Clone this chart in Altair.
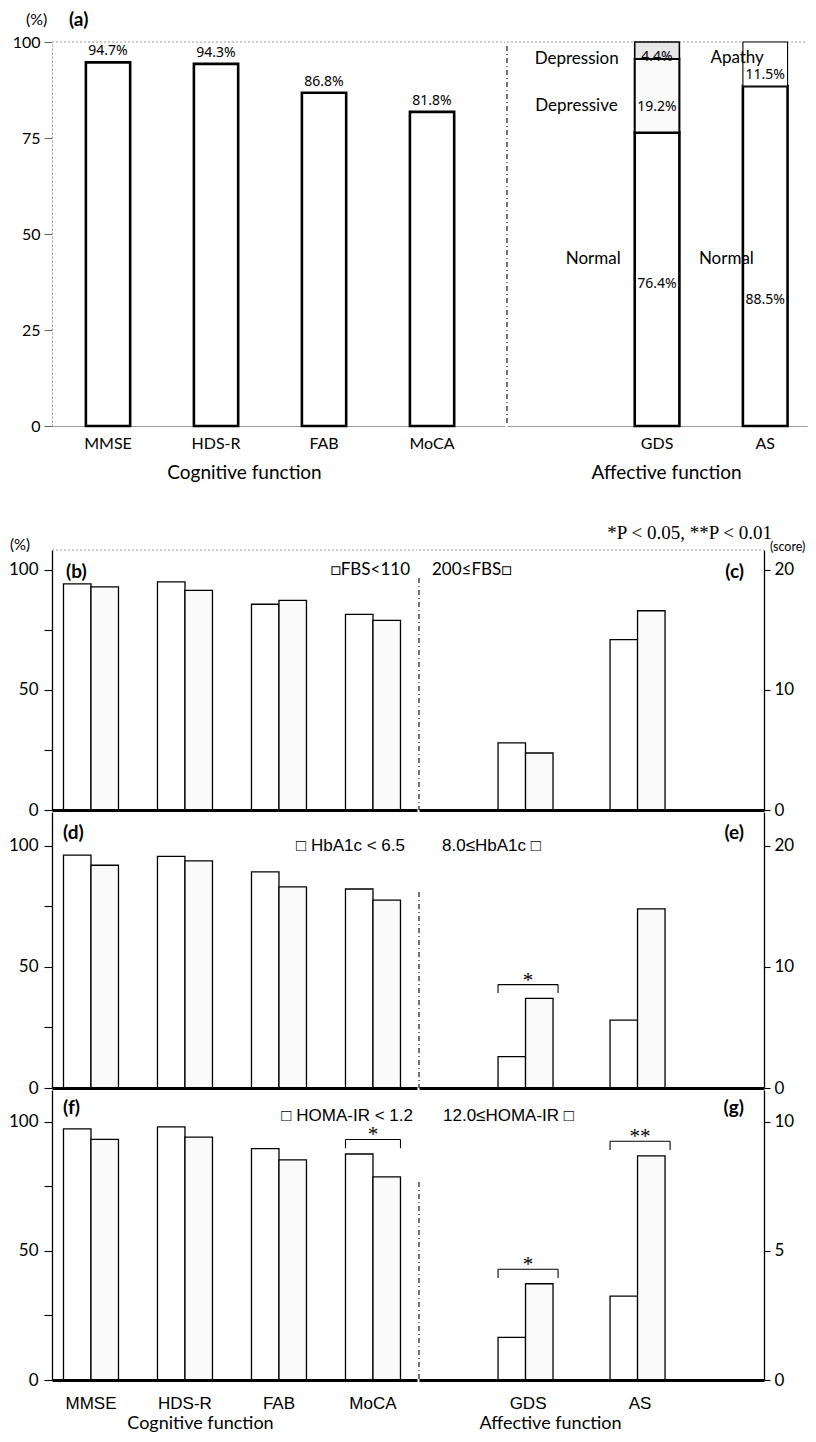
import altair as alt
import pandas as pd

# ---------------- data ----------------
cog_tests = ["MMSE", "HDS-R", "FAB", "MoCA"]
aff_tests = ["GDS", "AS"]
groups = ["low", "high"]

# panel (a)
a_cog_values = [94.7, 94.3, 86.8, 81.8]
gds_status = ["Normal", "Depressive", "Depression"]
gds_values = [76.4, 19.2, 4.4]
as_status = ["Normal", "Apathy"]
as_values = [88.5, 11.5]

# panels (b)/(c): FBS
fbs_legend = ["□FBS<110", "200≤FBS□"]
fbs_cog_low = [94.2, 95.0, 85.7, 81.5]
fbs_cog_high = [92.9, 91.5, 87.3, 79.0]
fbs_aff_low = [5.6, 14.2]
fbs_aff_high = [4.75, 16.6]
fbs_sig_cog = []
fbs_sig_aff = []

# panels (d)/(e): HbA1c
hba_legend = ["□ HbA1c < 6.5", "8.0≤HbA1c □"]
hba_cog_low = [96.2, 95.7, 89.3, 82.2]
hba_cog_high = [92.0, 93.8, 83.1, 77.6]
hba_aff_low = [2.6, 5.6]
hba_aff_high = [7.4, 14.8]
hba_sig_cog = []
hba_sig_aff = [("GDS", "*")]

# panels (f)/(g): HOMA-IR
homa_legend = ["□ HOMA-IR < 1.2", "12.0≤HOMA-IR □"]
homa_cog_low = [97.3, 98.1, 89.7, 87.6]
homa_cog_high = [93.3, 94.1, 85.3, 78.7]
homa_aff_low = [1.65, 3.25]
homa_aff_high = [3.73, 8.69]
homa_sig_cog = [("MoCA", "*")]
homa_sig_aff = [("GDS", "*"), ("AS", "**")]

p_note = "*P < 0.05, **P < 0.01"

# ---------------- styles ----------------
SANS = "Lato"
NARROW = "Liberation Sans Narrow, Liberation Sans"
NUM = "Noto Sans"
SERIF = "Liberation Serif"
GRAY = "#cfcfcf"


def txt(text, x, y, align="left", size=16, font=SANS, weight="normal",
        style="normal", opacity=1.0, baseline="middle"):
    return alt.Chart(pd.DataFrame({"t": [text]})).mark_text(
        align=align, baseline=baseline, fontSize=size, font=font,
        fontWeight=weight, fontStyle=style, color="black", opacity=opacity
    ).encode(x=alt.value(x), y=alt.value(y), text="t:N")


def hline(width, color="#9a9a9a", dash=(2, 2)):
    return alt.Chart(pd.DataFrame({"t": [0]})).mark_rule(
        color=color, strokeWidth=1, strokeDash=list(dash)
    ).encode(x=alt.value(0), x2=alt.value(width), y=alt.value(0))


def vsep(top, height):
    return alt.Chart(pd.DataFrame({"t": [0]})).mark_rule(
        color="black", strokeWidth=1.1, strokeDash=[5, 3, 1, 3]
    ).encode(x=alt.value(0), y=alt.value(top), y2=alt.value(height))


# ================= panel (a) =================
W_A_COG, W_A_AFF, H_A = 453, 300, 384

ya_axis = alt.Axis(values=[0, 25, 50, 75, 100], title=None, grid=False,
                   domainColor="#9a9a9a", domainDash=[2, 2], domainWidth=1,
                   tickColor="#666", tickSize=8, labelFont=SANS, labelFontSize=16,
                   labelPadding=4, labelColor="black")
ya_scale = alt.Scale(domain=[0, 100], nice=False)

xa_cog_scale = alt.Scale(domain=cog_tests, paddingInner=0.59, paddingOuter=0.392, align=0.4)
xa_cog_axis = alt.Axis(title="Cognitive function", titleX=192, titleAlign="center",
                       titleFont=SANS, titleFontSize=19, titleFontWeight="normal",
                       titlePadding=12, titleColor="black", labelAngle=0, labelFont=SANS,
                       labelFontSize=16, labelPadding=9, labelColor="black", ticks=False,
                       domainColor="#9a9a9a", domainWidth=1, labelOverlap=False)

df_a_cog = pd.DataFrame({"test": cog_tests, "value": a_cog_values})
base_a_cog = alt.Chart(df_a_cog).transform_calculate(
    lab="format(datum.value, '.1f') + '%'")
xa_c = alt.X("test:N", sort=cog_tests, scale=xa_cog_scale, axis=xa_cog_axis)
ya_c = alt.Y("value:Q", scale=ya_scale, axis=ya_axis)
a_cog_bars = base_a_cog.mark_bar(fill="white", stroke="black", strokeWidth=2.6).encode(x=xa_c, y=ya_c)
a_cog_lab = base_a_cog.mark_text(baseline="bottom", dy=-4, font=NUM, fontSize=14,
                                 color="black").encode(x=xa_c, y=ya_c, text="lab:N")
panel_a_cog = alt.layer(
    hline(W_A_COG), a_cog_bars, a_cog_lab,
    txt("(%)", -26, -22, size=16, font=SANS),
    txt("(a)", 17, -22, size=19, weight="bold", font=SANS),
    txt(".", -43, 100, size=10, opacity=0.0),
).properties(width=W_A_COG, height=H_A)

# stacked affective bars
rows = []
for st, v in zip(gds_status, gds_values):
    rows.append({"test": "GDS", "status": st, "value": v})
for st, v in zip(as_status, as_values):
    rows.append({"test": "AS", "status": st, "value": v})
df_a_aff = pd.DataFrame(rows)
df_a_aff["rank"] = list(range(len(gds_status))) + list(range(len(as_status)))

status_all = ["Normal", "Depressive", "Depression", "Apathy"]
xa_aff_scale = alt.Scale(domain=aff_tests, paddingInner=0.587, paddingOuter=0.68, align=0.868)
xa_aff_axis = alt.Axis(title="Affective function", titleX=159, titleAlign="center",
                       titleFont=SANS, titleFontSize=19, titleFontWeight="normal",
                       titlePadding=12, titleColor="black", labelAngle=0, labelFont=SANS,
                       labelFontSize=16, labelPadding=9, labelColor="black", ticks=False,
                       domainColor="#9a9a9a", domainWidth=1, labelOverlap=False)

base_a_aff = alt.Chart(df_a_aff).transform_stack(
    stack="value", as_=["y0", "y1"], groupby=["test"],
    sort=[alt.SortField("rank", order="ascending")]
).transform_calculate(
    mid="(datum.y0 + datum.y1) / 2",
    lab="format(datum.value, '.1f') + '%'"
)


def xa_a(bp=None):
    kw = {} if bp is None else {"bandPosition": bp}
    return alt.X("test:N", sort=aff_tests, scale=xa_aff_scale, axis=xa_aff_axis, **kw)


a_aff_bars = base_a_aff.mark_bar(stroke="black").encode(
    x=xa_a(),
    y=alt.Y("y0:Q", scale=ya_scale, axis=None),
    y2="y1:Q",
    fill=alt.Fill("status:N", scale=alt.Scale(domain=status_all,
                  range=["white", "#fafafa", "#e6e6e6", "white"]), legend=None),
    strokeWidth=alt.StrokeWidth("status:N", scale=alt.Scale(domain=status_all,
                                range=[2.6, 1.1, 2.6, 1.1]), legend=None),
)

# (value dy, name dx, name dy)
label_offsets = {
    ("GDS", "Depression"): (7, -16, 9),
    ("GDS", "Depressive"): (11, -17, 10),
    ("GDS", "Normal"): (5, -14, -20),
    ("AS", "Apathy"): (11, 21, -6),
    ("AS", "Normal"): (44, 11, 3),
}
a_aff_layers = [hline(W_A_AFF), vsep(4, H_A), a_aff_bars]
for (t, st), (vdy, ndx, ndy) in label_offsets.items():
    sub = base_a_aff.transform_filter(
        f"datum.test == '{t}' && datum.status == '{st}'")
    a_aff_layers.append(sub.mark_text(font=NUM, fontSize=14, color="black", dy=vdy).encode(
        x=xa_a(), y=alt.Y("mid:Q", scale=ya_scale, axis=None), text="lab:N"))
    a_aff_layers.append(sub.mark_text(font=SANS, fontSize=17, color="black", align="right",
                                      dx=ndx, dy=ndy).encode(
        x=xa_a(0), y=alt.Y("mid:Q", scale=ya_scale, axis=None), text="status:N"))

panel_a_aff = alt.layer(*a_aff_layers).properties(width=W_A_AFF, height=H_A)

row_a = alt.hconcat(panel_a_cog, panel_a_aff, spacing=0)

# ================= panels (b)-(g) =================
W_COG, W_AFF = 365, 345
cog_scale = dict(domain=cog_tests, paddingInner=0.415, paddingOuter=0.149, align=0.41)
aff_scale = dict(domain=aff_tests, paddingInner=0.464, paddingOuter=0.772, align=0.457)


def x_axis(last, title=None, title_x=0):
    if not last:
        return alt.Axis(title=None, labels=False, ticks=False, domainColor="black",
                        domainWidth=3, zindex=1)
    return alt.Axis(title=title, titleX=title_x, titleAlign="center", titleFont=SANS,
                    titleFontSize=18, titleFontWeight="normal", titleColor="black",
                    titlePadding=3, labelAngle=0, labelFont=NARROW, labelFontSize=17,
                    labelPadding=15, labelColor="black", labelOverlap=False, ticks=False,
                    domainColor="black", domainWidth=3, zindex=1)


def left_axis():
    return alt.Axis(values=[0, 25, 50, 75, 100],
                    labelExpr="datum.value % 50 == 0 ? datum.label : ''",
                    title=None, grid=False, domainColor="black", domainWidth=1.3,
                    tickColor="black", tickSize=8, tickWidth=1.1, labelFont=SANS,
                    labelFontSize=17, labelPadding=6, labelColor="black")


def right_axis(values):
    return alt.Axis(orient="right", values=values, title=None, grid=False,
                    domainColor="black", domainWidth=1.3, tickColor="black", tickSize=6,
                    tickWidth=1.1, labelFont=SANS, labelFontSize=17, labelPadding=4,
                    labelColor="black")


def sub_panel(tests, low, high, sigs, width, height, ymax, yaxis, sc, xaxis, pre, post):
    df = pd.DataFrame({"test": tests * 2,
                       "group": ["low"] * len(tests) + ["high"] * len(tests),
                       "value": list(low) + list(high)})
    xscale = alt.Scale(**sc)

    def X(bp=None):
        kw = {} if bp is None else {"bandPosition": bp}
        return alt.X("test:N", sort=tests, scale=xscale, axis=xaxis, **kw)

    yscale = alt.Scale(domain=[0, ymax], nice=False)

    def Y(f):
        return alt.Y(f"{f}:Q", scale=yscale, axis=yaxis)

    bars = alt.Chart(df).mark_bar(stroke="black", strokeWidth=1.3).encode(
        x=X(),
        xOffset=alt.XOffset("group:N", sort=groups,
                            scale=alt.Scale(domain=groups, paddingInner=0, paddingOuter=0)),
        y=Y("value"),
        fill=alt.Fill("group:N", scale=alt.Scale(domain=groups, range=["white", GRAY]),
                      legend=None),
    )
    layers = list(pre) + [bars] + list(post)
    if sigs:
        srows = []
        for t, lab in sigs:
            i = tests.index(t)
            top = max(low[i], high[i]) + 0.05 * ymax
            srows.append({"test": t, "label": lab, "top": top, "foot": top - 0.03 * ymax})
        sb = alt.Chart(pd.DataFrame(srows))
        layers.append(sb.mark_rule(color="black", strokeWidth=1.1).encode(
            x=X(0), x2=alt.X2("test:N", bandPosition=1), y=Y("top")))
        layers.append(sb.mark_rule(color="black", strokeWidth=1.1).encode(
            x=X(0), y=Y("top"), y2="foot:Q"))
        layers.append(sb.mark_rule(color="black", strokeWidth=1.1).encode(
            x=X(1), y=Y("top"), y2="foot:Q"))
        layers.append(sb.mark_text(font=SERIF, fontSize=21, baseline="alphabetic", dy=2,
                                   color="black").encode(x=X(), y=Y("top"), text="label:N"))
    return alt.layer(*layers).properties(width=width, height=height)


def make_row(cl, ch, al, ah, sig_c, sig_a, legend, letters, h, ymax_l, ymax_r, rvals,
             sep_top, lpos, letter_y, legend_font, first=False, last=False):
    cog_pre = [hline(W_COG)] if first else []
    aff_pre = ([hline(W_AFF)] if first else []) + [vsep(sep_top, h)]
    cog_post = [txt(letters[0], 14 if first else 11, letter_y, size=19, weight="bold"),
                txt(legend[0], lpos[0], lpos[2], align="right", size=17, font=legend_font)]
    aff_post = [txt(letters[1], W_AFF - 20, letter_y, align="right", size=19, weight="bold"),
                txt(legend[1], lpos[1], lpos[2], align="left", size=17, font=legend_font)]
    if first:
        cog_post.append(txt("(%)", -42, -5, size=15))
        # invisible twin of the P-note so both columns share the same top bound
        cog_post.append(txt("(%)", -42, -17, size=19, opacity=0.0))
        aff_post.append(txt(p_note, W_AFF + 8, -17, align="right", size=19, font=SERIF))
        aff_post.append(txt("(score)", W_AFF + 6, -3, align="left", size=12.5))
    cog = sub_panel(cog_tests, cl, ch, sig_c, W_COG, h, ymax_l, left_axis(), cog_scale,
                    x_axis(last, "Cognitive function", 148), cog_pre, cog_post)
    aff = sub_panel(aff_tests, al, ah, sig_a, W_AFF, h, ymax_r, right_axis(rvals), aff_scale,
                    x_axis(last, "Affective function", 131), aff_pre, aff_post)
    return cog, aff


cog_b, aff_b = make_row(fbs_cog_low, fbs_cog_high, fbs_aff_low, fbs_aff_high, fbs_sig_cog,
                        fbs_sig_aff, fbs_legend, ["(b)", "(c)"], 260, 108.3, 21.66,
                        [0, 10, 20], 28, (358, 13, 20), 22, SANS, first=True)
cog_d, aff_d = make_row(hba_cog_low, hba_cog_high, hba_aff_low, hba_aff_high, hba_sig_cog,
                        hba_sig_aff, hba_legend, ["(d)", "(e)"], 276, 114.0, 22.8,
                        [0, 10, 20], 80, (353, 23, 34), 21, NARROW)
cog_f, aff_f = make_row(homa_cog_low, homa_cog_high, homa_aff_low, homa_aff_high, homa_sig_cog,
                        homa_sig_aff, homa_legend, ["(f)", "(g)"], 290, 112.4, 11.24,
                        [0, 5, 10], 92, (361, 24, 26), 18, NARROW, last=True)

cog_col = alt.vconcat(cog_b, cog_d, cog_f, spacing=2, bounds="flush")
aff_col = alt.vconcat(aff_b, aff_d, aff_f, spacing=2, bounds="flush")
lower = alt.hconcat(cog_col, aff_col, spacing=0)

chart = alt.vconcat(row_a, lower, spacing=42).properties(
    padding={"left": 0, "top": 3, "right": 0, "bottom": 0}
).configure_view(stroke=None)

chart.save("out.html", embed_options={"renderer": "svg", "actions": False})
